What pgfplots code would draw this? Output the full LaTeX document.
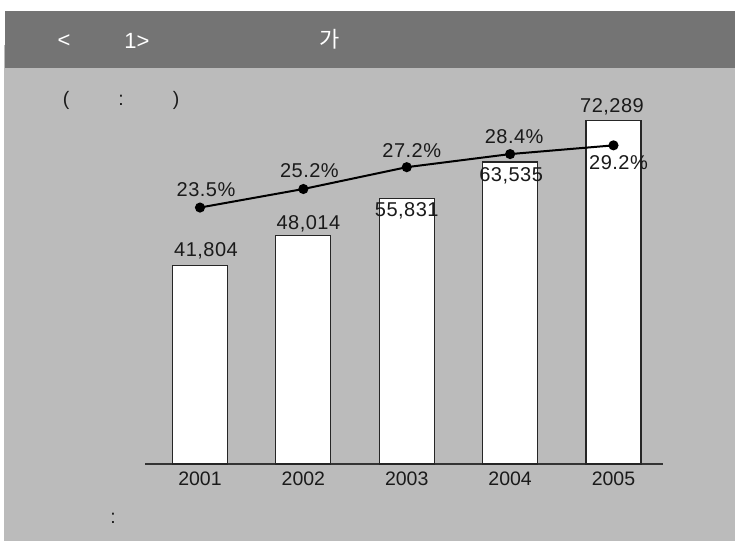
\documentclass[border=0pt]{standalone}
\usepackage{pgfplots}
\pgfplotsset{compat=1.18}
\usepackage{fontspec}
\setmainfont{Liberation Sans}
\newfontfamily\kr{Noto Sans CJK KR}
\newfontfamily\spaced[LetterSpace=2.5]{Liberation Sans}
\definecolor{barbg}{HTML}{747474}
\definecolor{panel}{HTML}{BBBBBB}
\definecolor{ink}{HTML}{1A1A1A}
\newcommand\lf{\fontsize{20bp}{22bp}\spaced}
\newcommand\yf{\fontsize{19.5bp}{22bp}\selectfont}
\begin{document}
\begin{tikzpicture}
% page and header
\fill[white] (0bp,0bp) rectangle (735bp,541bp);
\fill[panel] (4bp,0bp) rectangle (735bp,473bp);
\fill[panel] (4bp,473bp) rectangle (5bp,496bp);
\fill[barbg] (5bp,473bp) rectangle (735bp,530bp);
\node[white,font=\fontsize{22bp}{24bp}\selectfont] at (64bp,500bp) {<};
\node[white,font=\fontsize{22bp}{24bp}\selectfont] at (137bp,500bp) {1>};
\node[white,font=\fontsize{22bp}{24bp}\kr] at (330bp,502bp) {가};
\node[ink,font=\yf] at (66bp,441bp) {(};
\node[ink,font=\yf] at (121bp,441bp) {:};
\node[ink,font=\yf] at (176bp,441bp) {)};
\node[ink,font=\yf] at (113bp,23bp) {:};

% bars
\begin{axis}[
  at={(145bp,77bp)}, anchor=south west,
  scale only axis, width=518bp, height=380.3bp,
  xmin=-0.532, xmax=4.479, ymin=0, ymax=80000,
  axis x line*=bottom, axis y line=none,
  x axis line style={-, draw=black!80, line width=1.3bp},
  xtick={0,1,2,3,4},
  xticklabels={2001,2002,2003,2004,2005},
  major tick length=0pt,
  xticklabel style={font=\yf, text=ink, anchor=center, yshift=-15bp},
  clip=false
]
\addplot[ybar, bar width=55bp, fill=white, draw=black!85, line width=1.2bp]
  coordinates {(0,41804) (1,48014) (2,55831) (3,63535) (4,72289)};
\node[ink,font=\lf] at (axis cs:0,41804) [yshift=14bp,xshift=6bp] {41,804};
\node[ink,font=\lf] at (axis cs:1,48014) [yshift=12bp,xshift=5bp] {48,014};
\node[ink,font=\lf] at (axis cs:2,55831) [yshift=-12bp] {55,831};
\node[ink,font=\lf] at (axis cs:3,63535) [yshift=-14bp,xshift=1bp] {63,535};
\node[ink,font=\lf] at (axis cs:4,72289) [yshift=14bp,xshift=-1.5bp] {72,289};
\end{axis}

% ratio line
\begin{axis}[
  at={(145bp,77bp)}, anchor=south west,
  scale only axis, width=518bp, height=380.3bp,
  xmin=-0.532, xmax=4.479, ymin=0, ymax=34.85,
  hide axis, clip=false
]
\addplot[black, line width=2bp, mark=*, mark size=4bp, mark options={fill=black}]
  coordinates {(0,23.5) (1,25.2) (2,27.2) (3,28.4) (4,29.2)};
\node[ink,font=\lf] at (axis cs:0,23.5) [yshift=18bp,xshift=6bp] {23.5\%};
\node[ink,font=\lf] at (axis cs:1,25.2) [yshift=18bp,xshift=6bp] {25.2\%};
\node[ink,font=\lf] at (axis cs:2,27.2) [yshift=17bp,xshift=5bp] {27.2\%};
\node[ink,font=\lf] at (axis cs:3,28.4) [yshift=17.5bp,xshift=4bp] {28.4\%};
\node[ink,font=\lf] at (axis cs:4,29.2) [yshift=-17bp,xshift=5bp] {29.2\%};
\end{axis}
\end{tikzpicture}
\end{document}
